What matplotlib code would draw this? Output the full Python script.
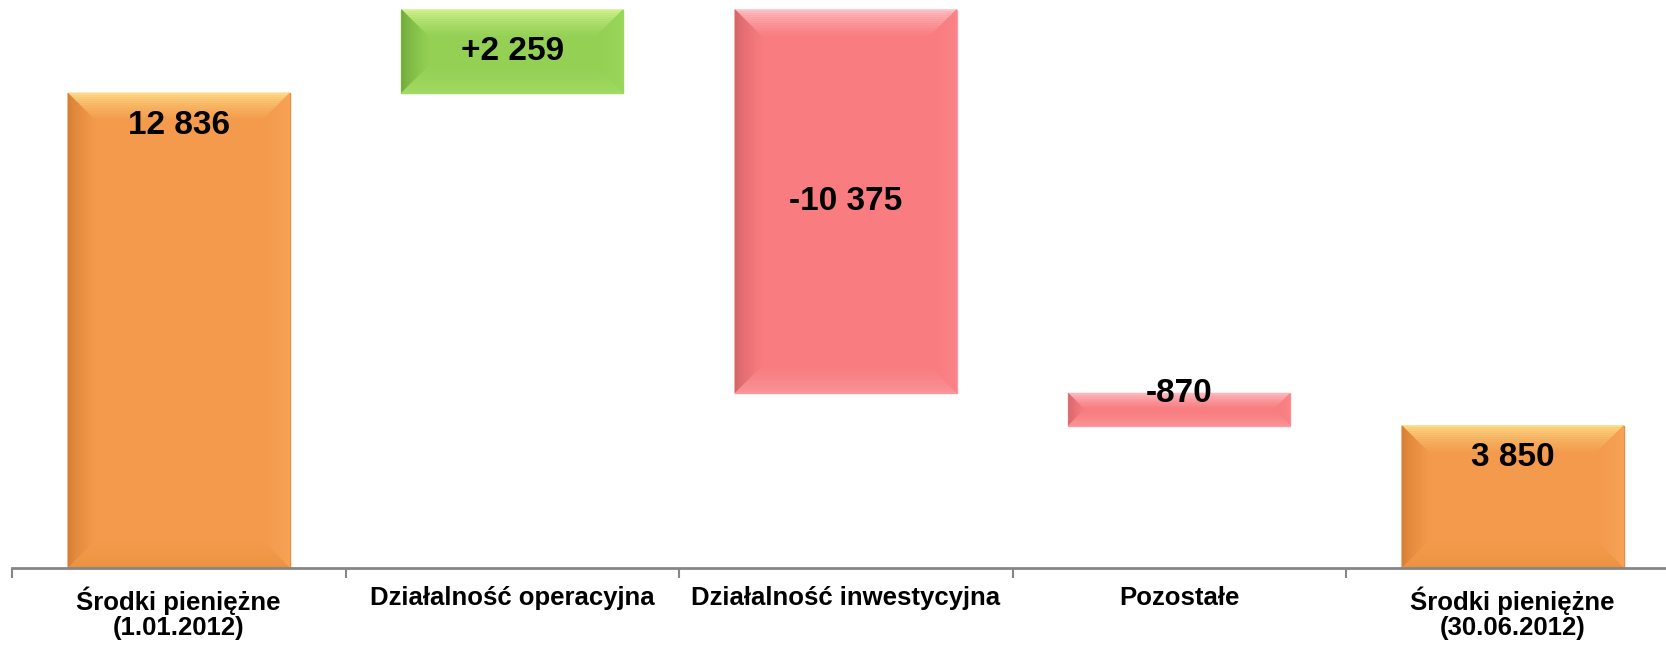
import matplotlib
matplotlib.use("Agg")
import matplotlib.pyplot as plt
from matplotlib.patches import Polygon
import numpy as np

categories = ["Środki pieniężne\n(1.01.2012)", "Działalność operacyjna",
              "Działalność inwestycyjna", "Pozostałe", "Środki pieniężne\n(30.06.2012)"]
values = [12836, 2259, -10375, -870, 3850]
kinds = ["total", "delta", "delta", "delta", "total"]
value_labels = ["12 836", "+2 259", "-10 375", "-870", "3 850"]

# computed waterfall bottoms/heights
bottoms, heights = [], []
running = 0
for v, k in zip(values, kinds):
    if k == "total":
        bottoms.append(0); heights.append(v); running = v
    else:
        if v >= 0:
            bottoms.append(running); heights.append(v)
        else:
            bottoms.append(running + v); heights.append(-v)
        running += v

palette = {
    "orange": dict(base="#F39A4C", top="#FFE690", left="#D27A2E", right="#F8A55A", bottom="#E8903F", edge="#E58E3D"),
    "green": dict(base="#93D054", top="#DDF89A", left="#6AA436", right="#9AD85C", bottom="#A5DD66", edge="#9ED862"),
    "red": dict(base="#F87C80", top="#FFCDD0", left="#CF6166", right="#FB8589", bottom="#FB9A9E", edge="#FA9DA0"),
}
colors = []
for v, k in zip(values, kinds):
    colors.append("orange" if k == "total" else ("green" if v >= 0 else "red"))

W, H, DPI = 1666, 647, 100
fig = plt.figure(figsize=(W / DPI, H / DPI), dpi=DPI)
ax_left_px, base_px = 12, 568
cat_px = 333.5
ax = fig.add_axes([ax_left_px / W, (H - base_px) / H, 5 * cat_px / W, base_px / H])
px_per_unit = (base_px - 9.5) / 15095
ax.set_ylim(0, base_px / px_per_unit)
ax.set_xlim(-0.5, 4.5)
bw = 0.665

rects = ax.bar(range(5), heights, bottom=bottoms, width=bw,
               color=[palette[c]["base"] for c in colors],
               edgecolor=[palette[c]["edge"] for c in colors], linewidth=1.0, zorder=2)

# bevel shading
fig.canvas.draw()
def to_px(x, y):
    return ax.transData.transform((x, y))
inv = ax.transData.inverted()

def blend(c1, c2, t):
    a = np.array(matplotlib.colors.to_rgb(c1)); b = np.array(matplotlib.colors.to_rgb(c2))
    return tuple(a * (1 - t) + b * t)

for i, (b, h, c) in enumerate(zip(bottoms, heights, colors)):
    x0p, y0p = to_px(i - bw / 2, b)
    x1p, y1p = to_px(i + bw / 2, b + h)
    D = min(28.0, (y1p - y0p) / 2.0, (x1p - x0p) / 2.0)
    N = 14
    pal = palette[c]
    for side in ["top", "left", "right", "bottom"]:
        for k in range(N):
            t0 = D * k / N; t1 = D * (k + 1) / N
            frac = ((k + 0.5) / N) ** 0.6
            col = blend(pal[side], pal["base"], frac)
            if side == "top":
                pts = [(x0p + t0, y1p - t0), (x1p - t0, y1p - t0), (x1p - t1, y1p - t1), (x0p + t1, y1p - t1)]
            elif side == "bottom":
                pts = [(x0p + t0, y0p + t0), (x1p - t0, y0p + t0), (x1p - t1, y0p + t1), (x0p + t1, y0p + t1)]
            elif side == "left":
                pts = [(x0p + t0, y0p + t0), (x0p + t0, y1p - t0), (x0p + t1, y1p - t1), (x0p + t1, y0p + t1)]
            else:
                pts = [(x1p - t0, y0p + t0), (x1p - t0, y1p - t0), (x1p - t1, y1p - t1), (x1p - t1, y0p + t1)]
            dpts = inv.transform(pts)
            ax.add_patch(Polygon(dpts, closed=True, facecolor=col, edgecolor=col, linewidth=0.3, zorder=3))

# value labels
for i, (b, h, c, lab, k) in enumerate(zip(bottoms, heights, colors, value_labels, kinds)):
    if k == "total":
        ax.annotate(lab, (i, b + h), xytext=(0, -32), textcoords="offset pixels",
                    ha="center", va="center", fontsize=24, fontweight="bold",
                    family="Liberation Sans", zorder=5)
    elif h * px_per_unit < 60:
        ax.annotate(lab, (i, b + h), xytext=(0, 0), textcoords="offset pixels",
                    ha="center", va="center", fontsize=24, fontweight="bold",
                    family="Liberation Sans", zorder=5)
    else:
        ax.text(i, b + h / 2, lab, ha="center", va="center", fontsize=24,
                fontweight="bold", family="Liberation Sans", zorder=5)

for s in ["top", "right", "left"]:
    ax.spines[s].set_visible(False)
ax.spines["bottom"].set_color("#868686")
ax.spines["bottom"].set_linewidth(2)
ax.spines["bottom"].set_zorder(4)
ax.set_yticks([])
ax.set_xticks(range(5))
ax.set_xticklabels(categories, fontsize=18.5, fontweight="bold", family="Liberation Sans",
                   linespacing=1.08)
ax.tick_params(axis="x", which="major", length=0, pad=13)
ax.set_xticks(np.arange(-0.5, 5.0, 1.0), minor=True)
ax.tick_params(axis="x", which="minor", length=7, width=1.5, color="#868686")
for t in ax.get_xticklabels():
    t.set_verticalalignment("top")

fig.savefig("out.png", dpi=DPI)
